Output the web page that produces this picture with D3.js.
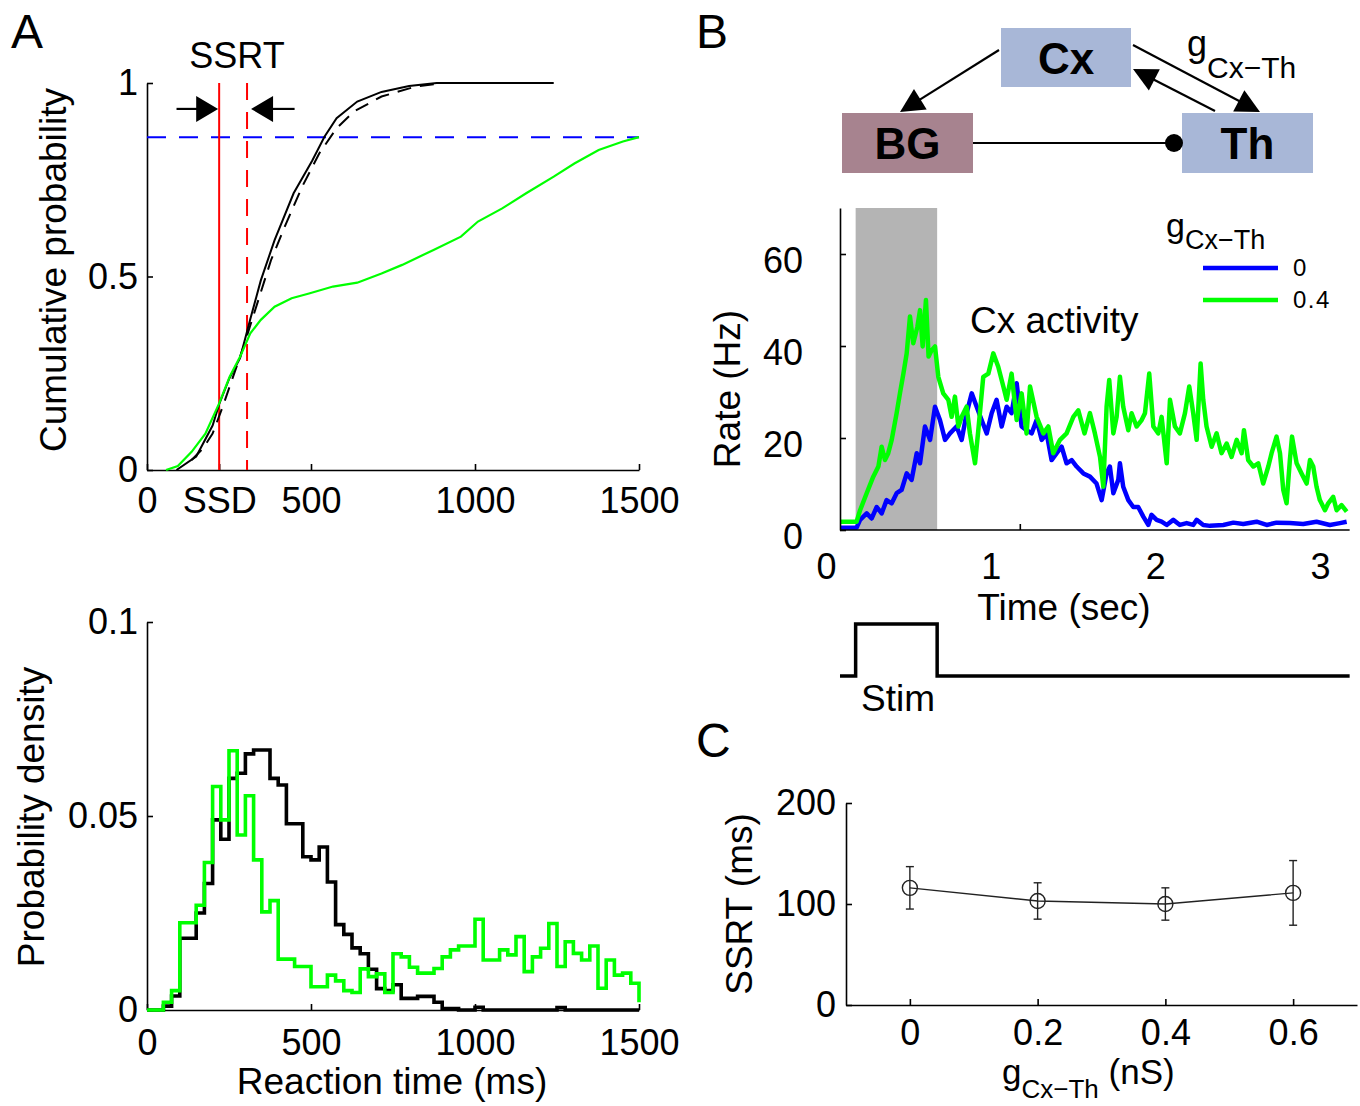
<!DOCTYPE html>
<html>
<head>
<meta charset="utf-8">
<script src="https://cdn.jsdelivr.net/npm/d3@7"></script>
<style>
  html, body { margin: 0; padding: 0; background: #fff; }
  svg { display: block; }
</style>
</head>
<body>
<script>
// ---------------- data ----------------
// Panel A (top): cumulative RT distributions, [ms, probability]
const cdfGo = [[90,0],[150,0.035],[200,0.115],[220,0.17],[250,0.235],[284,0.29],[315,0.39],[347,0.49],[389,0.594],[447,0.715],[504,0.80],[541,0.861],[578,0.909],[641,0.952],[715,0.977],[799,0.992],[883,1.0],[1240,1.0]];
const cdfGoPredicted = [[136,0.026],[170,0.055],[200,0.094],[231,0.164],[262,0.24],[294,0.318],[336,0.43],[378,0.542],[420,0.629],[473,0.732],[525,0.818],[578,0.883],[630,0.926],[715,0.965],[820,0.991],[904,1.0],[1000,1.0]];
const cdfStopFail = [[58,0],[94,0.01],[136,0.047],[178,0.094],[220,0.172],[252,0.241],[284,0.293],[315,0.353],[347,0.388],[389,0.422],[441,0.444],[494,0.456],[567,0.474],[641,0.484],[715,0.508],[778,0.53],[872,0.568],[957,0.603],[1009,0.642],[1083,0.676],[1156,0.715],[1240,0.758],[1303,0.792],[1377,0.827],[1451,0.849],[1500,0.86]];
const ssdMs = 220;
const ssdPlusSsrtMs = 305;
const matchProb = 0.86;
const arrowTailsMs = [90, 450];
const arrowProb = 0.933;
const cdfXTicks = [0, ssdMs, 500, 1000, 1500];
const cdfYTicks = [0, 0.5, 1];

// Panel A (bottom): RT histograms, 25 ms bins from 0 to 1500 ms
const binWidthMs = 25;
const histGo = [0,0,0.001,0.0036,0.0185,0.0185,0.025,0.0326,0.049,0.044,0.0597,0.061,0.066,0.067,0.067,0.0597,0.058,0.048,0.048,0.0395,
  0.0387,0.042,0.033,0.022,0.0195,0.016,0.0145,0.0105,0.0055,0.005,0.0065,0.003,0.003,0.0035,0.0035,0.002,0.0004,0.0004,0,0,
  0.0007,0,0,0,0,0,0,0,0,0,0.0006,0,0,0,0,0,0,0,0,0];
const histGoEnd = 0;
const histStopFail = [0,0,0.002,0.005,0.0225,0.0225,0.027,0.038,0.0576,0.049,0.0668,0.0451,0.0552,0.0387,0.0253,0.0282,0.0131,0.0131,0.0112,0.0112,
  0.006,0.006,0.009,0.0075,0.005,0.0045,0.0106,0.0086,0.0093,0.0045,0.0145,0.0137,0.011,0.0095,0.0095,0.0107,0.0137,0.0155,0.0165,0.0165,
  0.0234,0.0129,0.0129,0.0155,0.0142,0.0189,0.0099,0.0137,0.0159,0.0223,0.0112,0.0176,0.0146,0.0129,0.0165,0.0056,0.0129,0.009,0.0095,0.0069];
const histStopFailEnd = 0.002;
const histXTicks = [0, 500, 1000, 1500];
const histYTicks = [0, 0.05, 0.1];

// Panel B: Cx population rate, [time (s), rate (Hz)]
const rateG0 = [[0.085,0.5],[0.186,0.5],[0.207,2.2],[0.247,3.6],[0.277,2.5],[0.308,5],[0.338,3.6],[0.368,6.5],[0.399,5.8],[0.429,8],
  [0.459,8.7],[0.490,12.3],[0.520,10.9],[0.551,16.7],[0.571,14.5],[0.601,22.5],[0.632,19.6],[0.662,26.8],[0.692,23.9],[0.723,19.6],
  [0.753,21],[0.793,22.5],[0.824,19.6],[0.854,25.4],[0.885,29.7],[0.915,26.8],[0.945,23.9],[0.976,21],[1.006,25.4],[1.036,28.3],
  [1.067,22.5],[1.097,26.8],[1.127,25.4],[1.158,31.9],[1.188,22.5],[1.218,21.7],[1.249,21],[1.279,23.9],[1.310,19.6],[1.340,21],
  [1.370,15.2],[1.401,16.7],[1.431,18.1],[1.461,14.5],[1.492,15.2],[1.522,13.8],[1.563,12.3],[1.603,11.6],[1.643,10.1],[1.674,6.5],
  [1.704,12.3],[1.724,13.8],[1.745,8],[1.775,10.9],[1.785,14.5],[1.805,9.4],[1.836,6.5],[1.866,5],[1.896,5],[1.927,2.9],
  [1.957,1.1],[1.977,3.3],[2.008,2.2],[2.038,1.8],[2.069,1.1],[2.109,2.2],[2.149,1.1],[2.190,1.5],[2.230,1.1],[2.251,2.2],
  [2.291,1.1],[2.332,0.9],[2.413,1.1],[2.474,1.6],[2.534,1.3],[2.615,1.8],[2.676,1.1],[2.736,1.6],[2.817,1.5],[2.898,1.3],
  [2.979,1.8],[3.060,1.1],[3.121,1.5],[3.162,1.8]];
const rateG04 = [[0.085,1.8],[0.186,1.8],[0.207,4.3],[0.247,8],[0.287,11.6],[0.318,13.8],[0.338,18.1],[0.358,15.2],[0.378,16.7],[0.399,19.6],
  [0.429,25.4],[0.449,29.7],[0.470,34],[0.490,38.4],[0.510,46.4],[0.530,40.6],[0.555,44.2],[0.571,47.8],[0.587,39.9],[0.607,50],
  [0.623,37.7],[0.642,39.1],[0.662,39.9],[0.682,33.3],[0.712,29.7],[0.743,28.3],[0.763,24.6],[0.783,29],[0.804,22.5],[0.824,24.6],
  [0.854,26.8],[0.874,21],[0.905,14.5],[0.925,21.7],[0.955,33.3],[0.986,34],[1.016,38.4],[1.046,35.5],[1.077,31.2],[1.097,28.3],
  [1.127,34],[1.158,23.9],[1.188,29.7],[1.218,21],[1.239,31.2],[1.279,24.6],[1.320,21],[1.350,22.5],[1.380,16.7],[1.421,19.6],
  [1.461,21],[1.502,24.6],[1.532,26],[1.570,21],[1.603,25.4],[1.633,21],[1.664,15.9],[1.684,9.4],[1.704,26.8],[1.720,32.6],
  [1.745,21],[1.765,24.6],[1.785,33.3],[1.805,26.8],[1.836,21.7],[1.856,25.4],[1.886,22.5],[1.917,23.9],[1.937,25.4],[1.963,34],
  [1.988,22.5],[2.018,21],[2.038,24.6],[2.069,14.5],[2.089,28.3],[2.119,22.5],[2.149,21],[2.180,25.4],[2.206,31.2],[2.230,25.4],
  [2.251,19.6],[2.275,36.2],[2.291,28.3],[2.311,22.5],[2.342,18.1],[2.372,21],[2.402,16.7],[2.433,18.8],[2.463,15.9],[2.494,19.6],
  [2.524,16.7],[2.538,21.7],[2.564,15.2],[2.595,13.8],[2.625,14.5],[2.655,10.1],[2.686,13.8],[2.706,16.7],[2.736,20.3],[2.757,16.7],
  [2.777,8.7],[2.797,5.8],[2.817,15.2],[2.830,20.3],[2.858,14.5],[2.888,12.3],[2.919,10.1],[2.939,15.2],[2.959,13.8],[2.979,9.4],
  [2.999,6.5],[3.030,4.3],[3.050,5.8],[3.080,7.2],[3.101,4.3],[3.131,5.4],[3.162,4]];
const rateTimeEnd = 3.18;
const rateMax = 70;
const stimOn = 0.18, stimOff = 0.675;
const stimTrace = [[0.085,0],[stimOn,0],[stimOn,1],[stimOff,1],[stimOff,0],[3.18,0]];
const rateXTicks = [0, 1, 2, 3];
const rateYTicks = [0, 20, 40, 60];
const rateFrameTicks = [1.18];
const legendLabels = ['0', '0.4'];

// Panel C: SSRT versus Cx->Th coupling
const gCxTh = [0, 0.2, 0.4, 0.6];
const ssrtMean = [116, 103, 100, 111];
const ssrtErr = [21, 18, 16, 32];
const ssrtYTicks = [0, 100, 200];

// ---------------- drawing ----------------
const FONT = '"Liberation Sans", Arial, Helvetica, sans-serif';
const GREEN = '#00ff00', BLUE = '#0000ff', RED = '#ff0000';
const TICK_FS = 36, LABEL_FS = 37;

const svg = d3.select('body').append('svg')
  .attr('width', 1360).attr('height', 1106)
  .attr('font-family', FONT);

function styleAxis(g, opts = {}) {
  g.attr('font-family', FONT).attr('font-size', TICK_FS);
  g.selectAll('path.domain').attr('stroke', '#000').attr('stroke-width', 1.6);
  g.selectAll('.tick line').attr('stroke', '#000').attr('stroke-width', 1.6);
  g.selectAll('.tick text').attr('fill', '#000');
  if (opts.dy) g.selectAll('.tick text').attr('dy', opts.dy);
  return g;
}

function text(x, y, str, fs, extra = {}) {
  const t = svg.append('text').attr('x', x).attr('y', y).attr('font-size', fs).attr('fill', '#000').text(str);
  Object.entries(extra).forEach(([k, v]) => t.attr(k, v));
  return t;
}

function vtext(x, y, str, fs) {
  return svg.append('text').attr('transform', `translate(${x},${y}) rotate(-90)`)
    .attr('text-anchor', 'middle').attr('font-size', fs).attr('fill', '#000').text(str);
}

function arrowHead(g, x1, y1, x2, y2, len, half, color) {
  const dx = x2 - x1, dy = y2 - y1, L = Math.hypot(dx, dy);
  const ux = dx / L, uy = dy / L, px = -uy, py = ux;
  const bx = x2 - ux * len, by = y2 - uy * len;
  g.append('line').attr('x1', x1).attr('y1', y1).attr('x2', bx + ux * 2).attr('y2', by + uy * 2)
    .attr('stroke', color).attr('stroke-width', 2.2);
  g.append('polygon')
    .attr('points', [[x2, y2], [bx + px * half, by + py * half], [bx - px * half, by - py * half]].map(p => p.join(',')).join(' '))
    .attr('fill', color);
}

// Panel letters
text(11, 48, 'A', 48);
text(696, 48, 'B', 48);
text(696, 757, 'C', 48);

// ===== Panel A top: cumulative probability =====
{
  const x = d3.scaleLinear().domain([0, 1500]).range([147, 639]);
  const y = d3.scaleLinear().domain([0, 1]).range([470, 83]);
  const g = svg.append('g');

  styleAxis(g.append('g').attr('transform', 'translate(0,470)')
    .call(d3.axisBottom(x).tickValues(cdfXTicks).tickSizeInner(-6).tickSizeOuter(0).tickPadding(17)
      .tickFormat(d => d === ssdMs ? 'SSD' : String(d))));
  styleAxis(g.append('g').attr('transform', 'translate(147,0)')
    .call(d3.axisLeft(y).tickValues(cdfYTicks).tickSizeInner(-6).tickSizeOuter(0).tickPadding(9)
      .tickFormat(d3.format('~g'))));

  const line = d3.line().x(d => x(d[0])).y(d => y(d[1]));

  // matching probability and SSD / SSD+SSRT markers
  g.append('line').attr('x1', x(0)).attr('x2', x(1500)).attr('y1', y(matchProb)).attr('y2', y(matchProb))
    .attr('stroke', BLUE).attr('stroke-width', 2).attr('stroke-dasharray', '19,13');
  g.append('line').attr('x1', x(ssdMs)).attr('x2', x(ssdMs)).attr('y1', y(0)).attr('y2', y(1))
    .attr('stroke', RED).attr('stroke-width', 2);
  g.append('line').attr('x1', x(ssdPlusSsrtMs)).attr('x2', x(ssdPlusSsrtMs)).attr('y1', y(1)).attr('y2', y(0))
    .attr('stroke', RED).attr('stroke-width', 2).attr('stroke-dasharray', '17,12');

  g.append('path').attr('d', line(cdfGoPredicted)).attr('fill', 'none').attr('stroke', '#000')
    .attr('stroke-width', 2).attr('stroke-dasharray', '14,9');
  g.append('path').attr('d', line(cdfGo)).attr('fill', 'none').attr('stroke', '#000').attr('stroke-width', 2);
  g.append('path').attr('d', line(cdfStopFail)).attr('fill', 'none').attr('stroke', GREEN).attr('stroke-width', 2.2);

  // SSRT arrows
  arrowHead(g, x(arrowTailsMs[0]), y(arrowProb), x(ssdMs) - 1, y(arrowProb), 22, 13, '#000');
  arrowHead(g, x(arrowTailsMs[1]), y(arrowProb), x(ssdPlusSsrtMs) + 4, y(arrowProb), 22, 13, '#000');
  text(237, 68, 'SSRT', 36, { 'text-anchor': 'middle' });

  vtext(66, 270, 'Cumulative probability', LABEL_FS);
}

// ===== Panel A bottom: probability density =====
{
  const x = d3.scaleLinear().domain([0, 1500]).range([147, 639]);
  const y = d3.scaleLinear().domain([0, 0.1]).range([1010, 622]);
  const g = svg.append('g');

  styleAxis(g.append('g').attr('transform', 'translate(0,1010)')
    .call(d3.axisBottom(x).tickValues(histXTicks).tickSizeInner(-6).tickSizeOuter(0).tickPadding(19)
      .tickFormat(d3.format('d'))));
  styleAxis(g.append('g').attr('transform', 'translate(147,0)')
    .call(d3.axisLeft(y).tickValues(histYTicks).tickSizeInner(-6).tickSizeOuter(0).tickPadding(9)
      .tickFormat(d3.format('~g'))));

  const stairs = d3.line().x(d => x(d[0])).y(d => y(d[1])).curve(d3.curveStepAfter);
  const toSteps = (vals, endVal) => vals.map((v, i) => [i * binWidthMs, v]).concat([[vals.length * binWidthMs, endVal]]);

  g.append('path').attr('d', stairs(toSteps(histGo, histGoEnd))).attr('fill', 'none')
    .attr('stroke', '#000').attr('stroke-width', 3.6).attr('stroke-linejoin', 'miter');
  g.append('path').attr('d', stairs(toSteps(histStopFail, histStopFailEnd))).attr('fill', 'none')
    .attr('stroke', GREEN).attr('stroke-width', 3.6).attr('stroke-linejoin', 'miter');

  vtext(44, 817, 'Probability density', LABEL_FS);
  text(392, 1094, 'Reaction time (ms)', LABEL_FS, { 'text-anchor': 'middle' });
}

// ===== Panel B: circuit schematic =====
{
  const g = svg.append('g');
  const boxes = [
    { label: 'Cx', x: 1001, y: 28, w: 130, h: 59, fill: '#a8b7d7' },
    { label: 'BG', x: 842, y: 113, w: 131, h: 60, fill: '#a7838f' },
    { label: 'Th', x: 1182, y: 113, w: 131, h: 60, fill: '#a8b7d7' }
  ];
  boxes.forEach(b => {
    g.append('rect').attr('x', b.x).attr('y', b.y).attr('width', b.w).attr('height', b.h).attr('fill', b.fill);
    g.append('text').attr('x', b.x + b.w / 2).attr('y', b.y + b.h / 2 + 16).attr('text-anchor', 'middle')
      .attr('font-size', 44).attr('font-weight', 'bold').attr('fill', '#000').text(b.label);
  });
  arrowHead(g, 999, 50, 900, 112, 24, 12, '#000');
  arrowHead(g, 1133, 45, 1260, 112, 24, 12, '#000');
  arrowHead(g, 1215, 111, 1133, 69, 24, 12, '#000');
  g.append('line').attr('x1', 973).attr('y1', 143).attr('x2', 1168).attr('y2', 143)
    .attr('stroke', '#000').attr('stroke-width', 2.2);
  g.append('circle').attr('cx', 1174).attr('cy', 143).attr('r', 9).attr('fill', '#000');

  const lab = g.append('text').attr('x', 1187).attr('y', 56).attr('font-size', 36).attr('fill', '#000');
  lab.append('tspan').text('g');
  lab.append('tspan').attr('dy', 22).attr('font-size', 30).text('Cx\u2212Th');
}

// ===== Panel B: Cx rate =====
{
  const x = d3.scaleLinear().domain([0, 3]).range([826, 1320]);
  const y = d3.scaleLinear().domain([0, rateMax]).range([530, 208]);
  const tStart = d3.min(rateG0, d => d[0]);
  const g = svg.append('g');

  g.append('rect').attr('x', x(stimOn)).attr('y', y(rateMax)).attr('width', x(stimOff) - x(stimOn))
    .attr('height', y(0) - y(rateMax)).attr('fill', '#b4b4b4');

  const line = d3.line().x(d => x(d[0])).y(d => y(d[1]));
  g.append('path').attr('d', line(rateG0)).attr('fill', 'none').attr('stroke', BLUE)
    .attr('stroke-width', 4.5).attr('stroke-linejoin', 'round');
  g.append('path').attr('d', line(rateG04)).attr('fill', 'none').attr('stroke', GREEN)
    .attr('stroke-width', 4.5).attr('stroke-linejoin', 'round');

  // frame
  g.append('line').attr('x1', x(tStart)).attr('x2', x(rateTimeEnd)).attr('y1', y(0)).attr('y2', y(0))
    .attr('stroke', '#000').attr('stroke-width', 1.6);
  rateFrameTicks.forEach(t => g.append('line').attr('x1', x(t)).attr('x2', x(t)).attr('y1', y(0)).attr('y2', y(0) - 6)
    .attr('stroke', '#000').attr('stroke-width', 1.6));
  styleAxis(g.append('g').attr('transform', `translate(${x(tStart)},0)`)
    .call(d3.axisLeft(y).tickValues(rateYTicks).tickSizeInner(-6).tickSizeOuter(0).tickPadding(37)), { dy: '0.5em' });
  const xa = g.append('g').attr('transform', `translate(0,${y(0)})`)
    .call(d3.axisBottom(x).tickValues(rateXTicks).tickSize(0).tickPadding(23).tickFormat(d3.format('d')));
  xa.select('path.domain').remove();
  styleAxis(xa);

  text(970, 333, 'Cx activity', 37);
  vtext(740, 389, 'Rate (Hz)', LABEL_FS);
  text(1064, 620, 'Time (sec)', LABEL_FS, { 'text-anchor': 'middle' });

  // legend
  const lt = g.append('text').attr('x', 1166).attr('y', 237).attr('font-size', 34).attr('fill', '#000');
  lt.append('tspan').text('g');
  lt.append('tspan').attr('dy', 12).attr('font-size', 27).text('Cx\u2212Th');
  [BLUE, GREEN].forEach((c, i) => {
    const ly = 268 + i * 32;
    g.append('line').attr('x1', 1203).attr('x2', 1278).attr('y1', ly).attr('y2', ly)
      .attr('stroke', c).attr('stroke-width', 4.5);
    g.append('text').attr('x', 1293).attr('y', ly + 8).attr('font-size', 24).attr('letter-spacing', 1.5)
      .attr('fill', '#000').text(legendLabels[i]);
  });

  // stimulus trace
  const ys = d3.scaleLinear().domain([0, 1]).range([676, 624]);
  g.append('path').attr('d', d3.line().x(d => x(d[0])).y(d => ys(d[1]))(stimTrace))
    .attr('fill', 'none').attr('stroke', '#000').attr('stroke-width', 3.5);
  text(898, 711, 'Stim', 37, { 'text-anchor': 'middle' });
}

// ===== Panel C: SSRT vs g =====
{
  const x = d3.scaleLinear().domain([-0.1, 0.7]).range([846, 1357]);
  const y = d3.scaleLinear().domain([0, 200]).range([1005, 803]);
  const g = svg.append('g');

  styleAxis(g.append('g').attr('transform', 'translate(0,1005)')
    .call(d3.axisBottom(x).tickValues(gCxTh).tickSizeInner(-6).tickSizeOuter(0).tickPadding(14)
      .tickFormat(d => d === 0 ? '0' : d3.format('.1f')(d))));
  styleAxis(g.append('g').attr('transform', 'translate(846,0)')
    .call(d3.axisLeft(y).tickValues(ssrtYTicks).tickSizeInner(-6).tickSizeOuter(0).tickPadding(10)));

  const pts = gCxTh.map((v, i) => ({ g: v, m: ssrtMean[i], e: ssrtErr[i] }));
  g.append('path').attr('d', d3.line().x(d => x(d.g)).y(d => y(d.m))(pts))
    .attr('fill', 'none').attr('stroke', '#222').attr('stroke-width', 1.4);
  const eb = g.selectAll('g.eb').data(pts).join('g').attr('stroke', '#222').attr('stroke-width', 1.4);
  eb.append('line').attr('x1', d => x(d.g)).attr('x2', d => x(d.g)).attr('y1', d => y(d.m - d.e)).attr('y2', d => y(d.m + d.e));
  eb.append('line').attr('x1', d => x(d.g) - 4).attr('x2', d => x(d.g) + 4).attr('y1', d => y(d.m + d.e)).attr('y2', d => y(d.m + d.e));
  eb.append('line').attr('x1', d => x(d.g) - 4).attr('x2', d => x(d.g) + 4).attr('y1', d => y(d.m - d.e)).attr('y2', d => y(d.m - d.e));
  eb.append('circle').attr('cx', d => x(d.g)).attr('cy', d => y(d.m)).attr('r', 7.5).attr('fill', 'none');

  vtext(752, 904, 'SSRT (ms)', LABEL_FS);
  const xl = g.append('text').attr('x', 1002).attr('y', 1084).attr('font-size', 35).attr('fill', '#000');
  xl.append('tspan').text('g');
  xl.append('tspan').attr('dy', 14).attr('font-size', 26).text('Cx\u2212Th');
  xl.append('tspan').attr('dy', -14).text(' (nS)');
}
</script>
</body>
</html>
